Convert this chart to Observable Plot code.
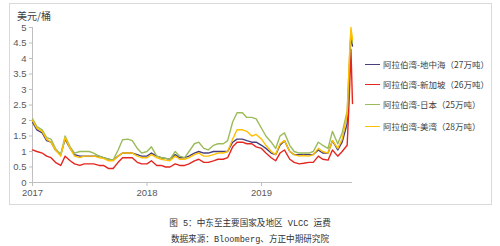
<!DOCTYPE html>
<html>
<head>
<meta charset="utf-8">
<script src="https://cdn.jsdelivr.net/npm/d3@7"></script>
<script src="https://cdn.jsdelivr.net/npm/@observablehq/plot@0.6"></script>
<style>
  html, body { margin: 0; padding: 0; background: #fff; }
  #page { position: relative; width: 500px; height: 246px; overflow: hidden; font-family: "Liberation Sans", "Noto Sans CJK SC", sans-serif; }
  #box { position: absolute; left: 9px; top: 3px; width: 483px; height: 202px; border: 1px solid #d9d9d9; box-sizing: border-box; }
  #box svg { position: absolute; left: 0; top: 0; }
  #unit { position: absolute; left: 17px; top: 8px; font-size: 10px; color: #404040; font-family: "Noto Sans CJK SC", sans-serif; }
  .leg { position: absolute; left: 365px; height: 12px; font-size: 8.5px; color: #404040; font-family: "Noto Sans CJK SC", sans-serif; white-space: nowrap; line-height: 12px; }
  .leg i { display: inline-block; width: 15px; height: 0; border-top: 1.6px solid; vertical-align: middle; margin-right: 3px; position: relative; top: -1px; }
  .cap { position: absolute; left: 0; width: 500px; text-align: center; font-size: 8.6px; color: #333; font-family: "Liberation Mono", "Noto Sans CJK SC", monospace; }
</style>
</head>
<body>
<div id="page">
  <div id="box"></div>
  <div id="unit">美元/桶</div>
  <div id="legend"></div>
  <div class="cap" style="top:216px">图 5：中东至主要国家及地区 VLCC 运费</div>
  <div class="cap" style="top:232px">数据来源：Bloomberg、方正中期研究院</div>
</div>
<script>
// Dates (semi-monthly readings, plus the October 2019 spike)
const dates = [
  "2017-01-01","2017-01-15","2017-02-01","2017-02-15","2017-03-01","2017-03-15","2017-04-01","2017-04-15",
  "2017-05-01","2017-05-15","2017-06-01","2017-06-15","2017-07-01","2017-07-15","2017-08-01","2017-08-15",
  "2017-09-01","2017-09-15","2017-10-01","2017-10-15","2017-11-01","2017-11-15","2017-12-01","2017-12-15",
  "2018-01-01","2018-01-15","2018-02-01","2018-02-15","2018-03-01","2018-03-15","2018-04-01","2018-04-15",
  "2018-05-01","2018-05-15","2018-06-01","2018-06-15","2018-07-01","2018-07-15","2018-08-01","2018-08-15",
  "2018-09-01","2018-09-15","2018-10-01","2018-10-15","2018-11-01","2018-11-15","2018-12-01","2018-12-15",
  "2019-01-01","2019-01-15","2019-02-01","2019-02-15","2019-03-01","2019-03-15","2019-04-01","2019-04-15",
  "2019-05-01","2019-05-15","2019-06-01","2019-06-15","2019-07-01","2019-07-15","2019-08-01","2019-08-15",
  "2019-09-01","2019-09-15","2019-10-01","2019-10-08","2019-10-13","2019-10-18"
];
const seriesNames = ["阿拉伯湾-地中海（27万吨）","阿拉伯湾-新加坡（26万吨）","阿拉伯湾-日本（25万吨）","阿拉伯湾-美湾（28万吨）"];
const seriesColors = ["#4a3f7d","#e3261f","#9bbb59","#ffc000"];

const mediterranean = [
  1.95,1.7,1.6,1.35,1.3,1.05,0.9,1.4, 1.1,0.9,0.85,0.85,0.85,0.85,0.85,0.8,
  0.75,0.72,0.85,0.95,0.95,0.95,0.9,0.85, 0.85,0.95,0.85,0.8,0.78,0.75,0.9,0.8,
  0.8,0.85,0.95,1.0,0.95,0.95,1.0,1.0, 1.0,1.0,1.3,1.4,1.4,1.35,1.3,1.3,
  1.2,1.1,0.95,0.9,1.2,1.35,1.0,0.9, 0.9,0.9,0.9,0.9,1.05,0.95,0.95,1.35,
  1.05,1.3,1.9,3.6,4.8,4.4
];
const singapore = [
  1.05,1.0,0.95,0.85,0.8,0.65,0.55,0.85, 0.7,0.6,0.55,0.6,0.6,0.6,0.55,0.55,
  0.45,0.45,0.65,0.8,0.8,0.8,0.65,0.6, 0.6,0.7,0.55,0.55,0.5,0.5,0.6,0.55,
  0.55,0.6,0.7,0.75,0.65,0.65,0.7,0.75, 0.75,0.8,1.15,1.3,1.3,1.25,1.25,1.15,
  1.1,0.95,0.8,0.7,0.95,1.05,0.75,0.65, 0.6,0.62,0.65,0.65,0.85,0.75,0.72,1.05,
  0.85,1.0,1.2,2.8,4.3,2.55
];
const japan = [
  2.05,1.8,1.7,1.45,1.4,1.1,0.9,1.5, 1.15,0.95,1.0,1.0,1.0,0.95,0.85,0.8,
  0.75,0.72,1.05,1.38,1.4,1.35,1.1,0.95, 1.0,1.15,0.85,0.8,0.78,0.75,1.0,0.85,
  0.8,1.0,1.25,1.3,1.1,1.05,1.2,1.25, 1.25,1.35,1.95,2.25,2.25,2.1,2.1,2.05,
  1.75,1.5,1.3,1.1,1.5,1.6,1.2,1.0, 0.95,0.95,0.95,1.0,1.3,1.2,1.1,1.65,
  1.25,1.6,2.3,3.9,4.9,4.5
];
const usGulf = [
  2.0,1.75,1.65,1.4,1.3,1.05,0.85,1.45, 1.1,0.85,0.8,0.85,0.85,0.85,0.8,0.78,
  0.7,0.7,0.85,0.95,0.95,0.95,0.85,0.8, 0.8,0.9,0.8,0.75,0.72,0.7,0.85,0.75,
  0.75,0.8,0.9,0.95,0.85,0.85,0.9,0.95, 0.95,1.0,1.4,1.7,1.7,1.65,1.5,1.55,
  1.4,1.2,1.0,0.9,1.25,1.35,1.0,0.9, 0.85,0.87,0.85,0.9,1.1,1.0,0.95,1.35,
  1.1,1.4,2.2,4.0,5.0,4.6
];
const yTicks = [0,0.5,1,1.5,2,2.5,3,3.5,4,4.5,5];
const xTicks = ["2017-01-01","2018-01-01","2019-01-01"];

const parse = d3.utcParse("%Y-%m-%d");
const allSeries = [mediterranean, singapore, japan, usGulf];
const rows = [];
allSeries.forEach((vals, si) => {
  vals.forEach((v, i) => rows.push({date: parse(dates[i]), value: v, series: seriesNames[si]}));
});
const xStart = parse(dates[0]);
const xEnd = parse(dates[dates.length - 1]);

const chart = Plot.plot({
  width: 481,
  height: 200,
  marginLeft: 22,
  marginRight: 139,
  marginTop: 23,
  marginBottom: 22,
  style: {fontFamily: "'Liberation Sans', sans-serif", fontSize: "9.5px", color: "#595959", background: "transparent"},
  x: {type: "utc", domain: [xStart, xEnd], label: null},
  y: {domain: [0, 5], label: null},
  color: {domain: seriesNames, range: seriesColors},
  marks: [
    Plot.ruleY([0], {stroke: "#bfbfbf", strokeWidth: 1}),
    Plot.ruleX([xStart], {y1: 0, y2: 5, stroke: "#bfbfbf", strokeWidth: 1}),
    Plot.axisY({ticks: yTicks, tickSize: 3, tickPadding: 3, stroke: "#bfbfbf", tickFormat: d => String(d), fill: "#595959"}),
    Plot.axisX({ticks: xTicks.map(parse), tickSize: 4, tickPadding: 3, stroke: "#bfbfbf", tickFormat: d3.utcFormat("%Y"), fill: "#595959"}),
    Plot.line(rows, {x: "date", y: "value", z: "series", stroke: "series", strokeWidth: 1.4, curve: "linear"})
  ]
});
document.getElementById("box").appendChild(chart);

// Legend
const legend = document.getElementById("legend");
const legTops = [58, 78, 98, 120];
seriesNames.forEach((name, i) => {
  const d = document.createElement("div");
  d.className = "leg";
  d.style.top = legTops[i] + "px";
  d.innerHTML = `<i style="border-color:${seriesColors[i]}"></i>${name}`;
  legend.appendChild(d);
});
</script>
</body>
</html>
